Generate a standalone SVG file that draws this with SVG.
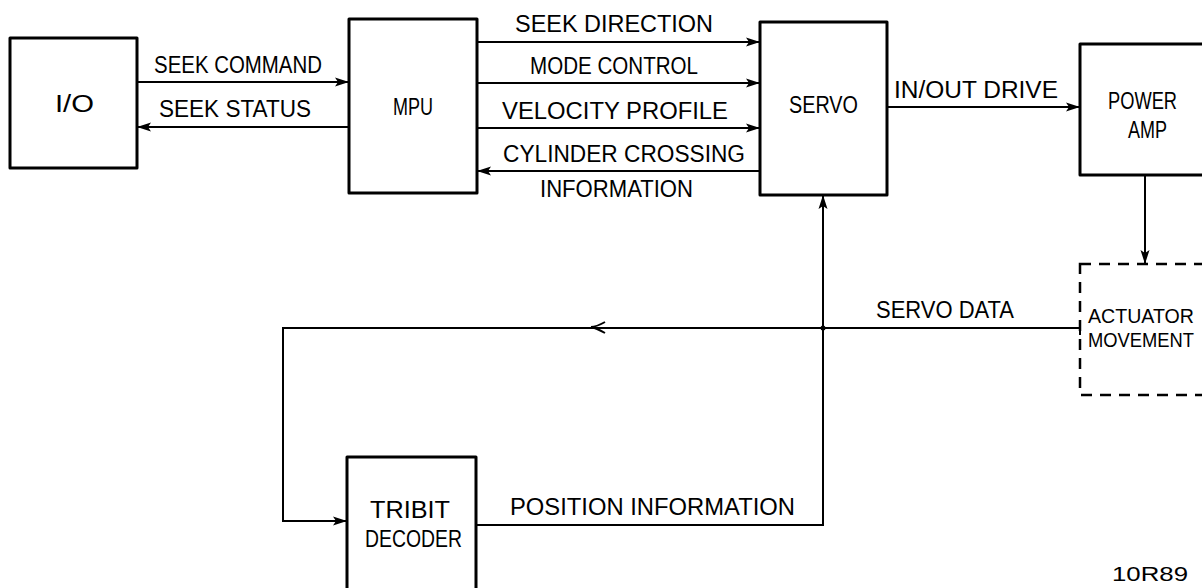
<svg xmlns="http://www.w3.org/2000/svg" width="1202" height="588" viewBox="0 0 1202 588">
<style>
.box{fill:#fff;stroke:#000;stroke-width:3;stroke-linejoin:round}
.dash{fill:none;stroke:#000;stroke-width:2.5;stroke-dasharray:11 8}
.c{fill:none;stroke:#000;stroke-width:2}
.a{marker-end:url(#ah)}
text{font-family:"Liberation Sans",Arial,sans-serif;font-size:23.5px;fill:#000}
.sm{font-size:21px}
</style>
<defs>
<marker id="ah" markerUnits="userSpaceOnUse" markerWidth="16" markerHeight="12" refX="14" refY="6" orient="auto">
<path d="M0,1.5 L14,6 L0,10.5 L3,6 Z" fill="#000"/>
</marker>
</defs>
<rect width="1202" height="588" fill="#fff"/>

<g id="io">
<rect class="box" x="10" y="38" width="127" height="130"/>
<text x="55" y="112" textLength="39" lengthAdjust="spacingAndGlyphs">I/O</text>
</g>
<g id="mpu">
<rect class="box" x="349" y="19" width="128" height="174"/>
<text x="393" y="115" textLength="40" lengthAdjust="spacingAndGlyphs">MPU</text>
</g>
<g id="servo">
<rect class="box" x="760" y="22" width="127" height="173"/>
<text x="789" y="113" textLength="69" lengthAdjust="spacingAndGlyphs">SERVO</text>
</g>
<g id="power-amp">
<rect class="box" x="1080" y="44" width="140" height="131"/>
<text x="1108" y="109" textLength="69" lengthAdjust="spacingAndGlyphs">POWER</text>
<text x="1128" y="138" textLength="39" lengthAdjust="spacingAndGlyphs">AMP</text>
</g>
<g id="actuator">
<rect class="dash" x="1080" y="264" width="140" height="131"/>
<text class="sm" x="1088" y="323" textLength="106" lengthAdjust="spacingAndGlyphs">ACTUATOR</text>
<text class="sm" x="1088" y="347" textLength="106" lengthAdjust="spacingAndGlyphs">MOVEMENT</text>
</g>
<g id="tribit">
<rect class="box" x="347" y="457" width="129" height="140"/>
<text x="370" y="518" textLength="80" lengthAdjust="spacingAndGlyphs">TRIBIT</text>
<text x="365" y="547" textLength="97" lengthAdjust="spacingAndGlyphs">DECODER</text>
</g>

<g id="connectors">
<path class="c a" d="M137,82 L349,82"/>
<path class="c a" d="M349,127 L137,127"/>
<path class="c a" d="M477,42 L760,42"/>
<path class="c a" d="M477,83 L760,83"/>
<path class="c a" d="M477,128 L760,128"/>
<path class="c a" d="M760,171 L477,171"/>
<path class="c a" d="M887,107 L1080,107"/>
<path class="c a" d="M1145,175 L1145,264"/>
<path class="c a" d="M1080,328 L283,328 L283,521 L347,521"/>
<path class="c" d="M1080,322 L1080,335"/>
<path class="c" d="M605,322 Q596,327 591,327 Q596,328 605,333"/>
<circle cx="823" cy="328" r="2.5" fill="#000"/>
<path class="c a" d="M476,525 L823,525 L823,195"/>
</g>

<g id="labels">
<text x="154" y="73" textLength="168" lengthAdjust="spacingAndGlyphs">SEEK COMMAND</text>
<text x="159" y="117" textLength="152" lengthAdjust="spacingAndGlyphs">SEEK STATUS</text>
<text x="515" y="32" textLength="198" lengthAdjust="spacingAndGlyphs">SEEK DIRECTION</text>
<text x="530" y="74" textLength="168" lengthAdjust="spacingAndGlyphs">MODE CONTROL</text>
<text x="502" y="119" textLength="226" lengthAdjust="spacingAndGlyphs">VELOCITY PROFILE</text>
<text x="503" y="162" textLength="242" lengthAdjust="spacingAndGlyphs">CYLINDER CROSSING</text>
<text x="540" y="197" textLength="153" lengthAdjust="spacingAndGlyphs">INFORMATION</text>
<text x="894" y="98" textLength="164" lengthAdjust="spacingAndGlyphs">IN/OUT DRIVE</text>
<text x="876" y="318" textLength="138" lengthAdjust="spacingAndGlyphs">SERVO DATA</text>
<text x="510" y="515" textLength="285" lengthAdjust="spacingAndGlyphs">POSITION INFORMATION</text>
<text class="sm" x="1112" y="581" textLength="76" lengthAdjust="spacingAndGlyphs">10R89</text>
</g>
</svg>
